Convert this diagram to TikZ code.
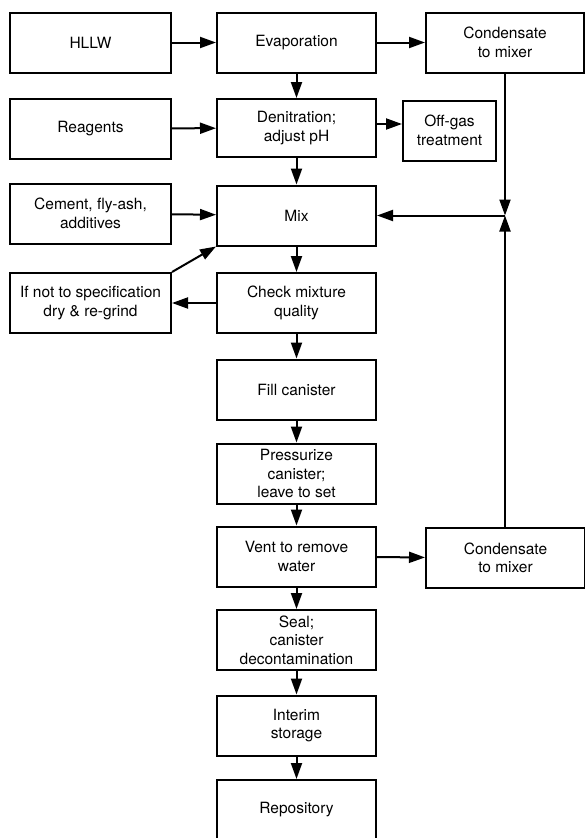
\documentclass[tikz,border=0pt]{standalone}
\usepackage{fontspec}
\setmainfont{TeX Gyre Heros}
\usetikzlibrary{arrows.meta}
\tikzset{
	stage/.style={draw, line width=2pt, align=center, inner sep=2pt,
		minimum width=159pt, minimum height=60pt,
		font=\fontsize{15.5}{18.5}\selectfont},
	flow/.style={line width=2pt, -{Triangle[length=16pt,width=11pt]}}
}
\begin{document}
	\begin{tikzpicture}[x=1pt,y=-1pt]
		\useasboundingbox (0,0) rectangle (585,838);
		% left column
		\node[stage, minimum width=161pt] (hllw) at (90.5,42.5) {HLLW};
		\node[stage, minimum width=161pt] (reagents) at (90.5,128.5) {Reagents};
		\node[stage, minimum width=161pt] (cement) at (90.5,213.5) {Cement, fly-ash,\\additives};
		\node[stage, minimum width=161pt] (regrind) at (90.5,303) {If not to specification\\dry \& re-grind};
		% main line
		\node[stage] (evap) at (296.5,42.5) {Evaporation};
		\node[stage, minimum height=58pt] (denit) at (296.5,128) {Denitration;\\adjust pH};
		\node[stage] (mix) at (296.5,215.5) {Mix};
		\node[stage] (check) at (296.5,303) {Check mixture\\quality};
		\node[stage] (fill) at (296.5,389.5) {Fill canister};
		\node[stage] (press) at (296.5,473.5) {Pressurize\\canister;\\leave to set};
		\node[stage] (vent) at (296.5,556.5) {Vent to remove\\water};
		\node[stage] (seal) at (296.5,640) {Seal;\\canister\\decontamination};
		\node[stage] (interim) at (296.5,725.5) {Interim\\storage};
		\node[stage] (repo) at (296.5,810) {Repository};
		% right column
		\node[stage, minimum width=158pt] (condtop) at (505,42.5) {Condensate\\to mixer};
		\node[stage, minimum width=93pt, minimum height=60pt] (offgas) at (449.5,130.5) {Off-gas\\treatment};
		\node[stage] (condbot) at (505.5,558) {Condensate\\to mixer};
		\coordinate (join) at (condtop.south |- mix.east);
		% connectors
		\draw[flow] (hllw) -- (evap);
		\draw[flow] (evap) -- (condtop);
		\draw[flow] (evap) -- (denit);
		\draw[flow] (reagents) -- (denit);
		\draw[flow] ([yshift=4pt]denit.east) -- ([yshift=4pt]denit.east -| offgas.west);
		\draw[flow] (denit) -- (mix);
		\draw[flow] (cement) -- (mix);
		\draw[flow] (condtop.south) -- (join);
		\draw[flow] (condtop.south |- condbot.north) -- (join);
		\draw[flow] (join) -- (mix.east);
		\draw[flow] (mix) -- (check);
		\draw[flow] (check) -- (regrind);
		\draw[flow] (regrind.north east) -- (mix.south west);
		\draw[flow] (check) -- (fill);
		\draw[flow] (fill) -- (press);
		\draw[flow] (press) -- (vent);
		\draw[flow] (vent) -- (condbot);
		\draw[flow] (vent) -- (seal);
		\draw[flow] (seal) -- (interim);
		\draw[flow] (interim) -- (repo);
	\end{tikzpicture}
\end{document}
